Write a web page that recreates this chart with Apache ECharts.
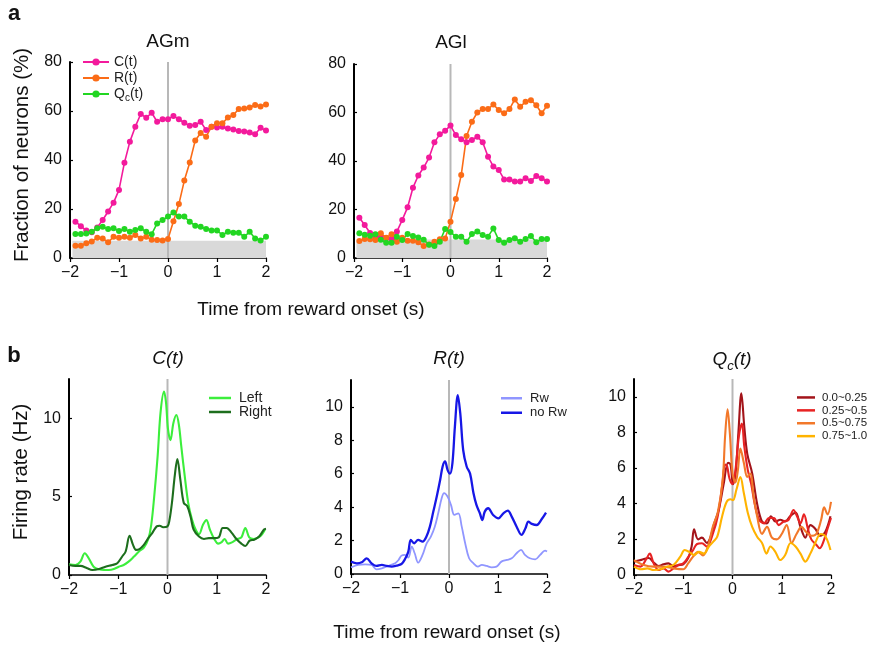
<!DOCTYPE html>
<html>
<head>
<meta charset="utf-8">
<script src="https://cdn.jsdelivr.net/npm/echarts@6.0.0/dist/echarts.min.js"></script>
<style>
html,body{margin:0;padding:0;background:#ffffff;}
#chart{width:871px;height:646px;}
</style>
</head>
<body>
<div id="chart"></div>
<script>
// ---------- shared tick labels ----------
const xTicks = [-2, -1, 0, 1, 2];
const aYTicks = [0, 20, 40, 60, 80];
const cYTicks = [0, 5, 10];
const rYTicks = [0, 2, 4, 6, 8, 10];
const qYTicks = [0, 2, 4, 6, 8, 10];

// ---------- panel a: time bins (s) ----------
const binTimes = [-1.889, -1.778, -1.667, -1.556, -1.444, -1.333, -1.222, -1.111, -1.0, -0.889, -0.778, -0.667, -0.556, -0.444, -0.333, -0.222, -0.111, 0,
  0.111, 0.222, 0.333, 0.444, 0.556, 0.667, 0.778, 0.889, 1.0, 1.111, 1.222, 1.333, 1.444, 1.556, 1.667, 1.778, 1.889, 2.0];

// AGm (% of neurons)
const agmC = [14.8, 13, 11.2, 10.5, 12.5, 15.5, 19, 22.6, 27.8, 38.9, 47.5, 53.6, 58.8, 57.2, 59.3, 55.6, 56.6, 56.6,
  58, 56.6, 55.2, 54, 54.3, 55.6, 52.2, 53.6, 53.3, 53.6, 52.9, 52.5, 51.8, 51.6, 51.2, 50.5, 53.2, 52];
const agmR = [5, 5, 6, 6.7, 8.3, 8, 6.4, 8.7, 8.3, 8.7, 8.3, 9.4, 8, 8.7, 7.5, 7.3, 7.1, 7.8,
  15, 22, 31.6, 39, 48, 51, 49.5, 53.6, 55, 55, 57.3, 58.4, 60.8, 61, 61.4, 62.4, 61.8, 62.7];
const agmQ = [9.8, 9.8, 10, 10.7, 12.1, 12.8, 11.8, 12.1, 11, 11.8, 10.7, 11.4, 12.1, 10.7, 9.7, 14.1, 15.5, 16.9,
  18.6, 16.9, 16.9, 14.8, 13.2, 12.8, 11.8, 11.2, 11.2, 9.4, 10.7, 10.3, 10.3, 8.7, 10.7, 8, 7.1, 8.7];
const agmChance = 7;

// AGl (% of neurons)
const aglC = [16.6, 13.6, 10.3, 8.9, 8.5, 8.1, 7.8, 10.9, 15.7, 20.9, 29, 34, 37.3, 41.4, 47.7, 51, 52.5, 54.6,
  50.7, 49, 47.7, 48.7, 50, 47.7, 41.8, 37.7, 36.3, 32.4, 32.4, 31.5, 31.5, 32.9, 31.8, 33.8, 32.9, 31.5];
const aglR = [7, 7.8, 7.7, 7.4, 10.2, 8.4, 9.8, 6.7, 8.4, 7.1, 7.1, 6.5, 4.9, 5.6, 6.7, 7.7, 8, 15,
  24.3, 34.2, 50.3, 56.2, 60, 61.4, 61.4, 63.3, 61, 59.7, 61.4, 65.4, 62.4, 64.4, 65.1, 63, 59.7, 62.8];
const aglQ = [10.2, 9.6, 9.2, 9.8, 7.5, 6.3, 6.3, 8.8, 7.4, 9.9, 9.1, 8.5, 7.5, 5.5, 5, 6.7, 12, 10.7,
  8.8, 8.8, 6.7, 9.9, 10.9, 9.5, 8.8, 12.2, 7.4, 6.3, 7.4, 8.1, 6.7, 7.8, 9.1, 6.5, 7.8, 7.8];
const aglChance = 7.6;
const bandStart = -1.95;

// ---------- panel b: firing rates (Hz) ----------
const leftT = [-2, -1.87, -1.77, -1.68, -1.6, -1.5, -1.39, -1.29, -1.19, -1.09, -0.99, -0.89, -0.79, -0.68, -0.58, -0.48, -0.39, -0.33, -0.27, -0.2, -0.14, -0.07, -0.03, 0.01, 0.06, 0.12, 0.18, 0.23, 0.28, 0.35, 0.42, 0.5, 0.57, 0.64, 0.72, 0.79, 0.86, 0.95, 1.03, 1.1, 1.16, 1.23, 1.32, 1.42, 1.5, 1.58, 1.66, 1.75, 1.85, 1.92, 1.98];
const leftV = [0.68, 0.64, 0.85, 1.39, 1.07, 0.53, 0.36, 0.32, 0.32, 0.38, 0.53, 0.64, 0.85, 1.18, 1.5, 1.75, 2.3, 3.2, 5.0, 7.6, 10.4, 11.7, 11.0, 9.3, 8.6, 9.7, 10.2, 9.6, 8.2, 6.3, 4.6, 3.5, 2.9, 2.6, 3.2, 3.5, 2.9, 2.3, 2.0, 2.1, 2.3, 2.0, 2.1, 2.3, 2.4, 3.0, 2.4, 2.3, 2.4, 2.6, 2.9];
const rightT = [-2, -1.87, -1.77, -1.63, -1.53, -1.39, -1.26, -1.12, -1.02, -0.92, -0.85, -0.77, -0.7, -0.64, -0.57, -0.48, -0.39, -0.31, -0.22, -0.16, -0.09, 0, 0.04, 0.09, 0.15, 0.2, 0.26, 0.33, 0.4, 0.47, 0.53, 0.64, 0.74, 0.84, 0.94, 1.04, 1.12, 1.2, 1.3, 1.4, 1.5, 1.58, 1.67, 1.76, 1.86, 1.96, 2.0];
const rightV = [0.64, 0.58, 0.58, 0.43, 0.32, 0.38, 0.53, 0.64, 0.75, 1.18, 1.5, 2.5, 1.92, 1.6, 1.65, 1.92, 2.35, 2.67, 3.1, 3.14, 3.05, 3.1, 3.5, 4.6, 6.4, 7.4, 6.1, 4.6, 4.4, 3.7, 2.9, 2.45, 2.3, 2.35, 2.35, 2.4, 3.0, 3.0, 2.7, 2.3, 2.0, 1.85, 2.2, 2.25, 2.45, 2.9, 2.95];

const noRwT = [-2, -1.88, -1.78, -1.68, -1.58, -1.48, -1.37, -1.27, -1.17, -1.07, -0.97, -0.9, -0.83, -0.78, -0.71, -0.63, -0.54, -0.46, -0.39, -0.32, -0.25, -0.18, -0.13, -0.08, -0.03, 0.02, 0.07, 0.12, 0.18, 0.23, 0.29, 0.36, 0.43, 0.5, 0.56, 0.63, 0.68, 0.73, 0.8, 0.9, 1.01, 1.11, 1.2, 1.28, 1.38, 1.48, 1.56, 1.62, 1.69, 1.79, 1.89, 1.98];
const noRwV = [0.74, 0.64, 0.7, 0.94, 0.64, 0.48, 0.54, 0.48, 0.44, 0.5, 0.6, 0.88, 1.34, 2.04, 1.84, 2.04, 1.94, 2.24, 2.83, 3.73, 4.63, 5.63, 6.43, 6.73, 6.23, 6.0, 6.63, 8.8, 10.7, 9.6, 7.4, 6.43, 6.0, 4.83, 4.13, 3.63, 3.23, 3.73, 3.93, 3.53, 3.33, 3.63, 3.79, 3.43, 2.83, 2.34, 2.73, 3.13, 3.0, 2.93, 3.27, 3.67];
const rwT = [-2, -1.85, -1.71, -1.58, -1.48, -1.37, -1.24, -1.1, -1.03, -0.97, -0.9, -0.83, -0.76, -0.7, -0.63, -0.54, -0.46, -0.37, -0.29, -0.22, -0.15, -0.1, -0.03, 0.04, 0.11, 0.19, 0.26, 0.33, 0.41, 0.5, 0.59, 0.67, 0.77, 0.87, 0.97, 1.07, 1.18, 1.28, 1.38, 1.47, 1.55, 1.65, 1.76, 1.86, 1.96, 2.0];
const rwV = [0.4, 0.54, 0.58, 0.54, 0.28, 0.34, 0.48, 0.64, 0.84, 1.1, 1.14, 0.98, 1.64, 1.24, 0.68, 1.14, 1.8, 2.24, 2.83, 3.63, 4.53, 4.83, 4.63, 4.13, 3.53, 3.63, 2.83, 1.84, 0.94, 0.64, 0.44, 0.54, 0.48, 0.4, 0.44, 0.74, 0.84, 0.94, 1.24, 1.44, 1.14, 0.94, 0.88, 1.14, 1.4, 1.35];

const q1T = [-2, -1.85, -1.7, -1.6, -1.5, -1.4, -1.3, -1.2, -1.1, -1.0, -0.9, -0.83, -0.78, -0.7, -0.62, -0.52, -0.45, -0.37, -0.28, -0.18, -0.09, -0.04, 0.01, 0.06, 0.12, 0.18, 0.24, 0.3, 0.4, 0.5, 0.6, 0.7, 0.78, 0.87, 0.97, 1.07, 1.17, 1.28, 1.38, 1.48, 1.58, 1.68, 1.78, 1.88, 1.99];
const q1V = [0.75, 0.85, 0.95, 0.7, 0.5, 0.6, 0.65, 0.5, 0.55, 0.6, 0.95, 1.6, 2.56, 2.0, 2.1, 1.8, 2.1, 2.9, 3.65, 5.1, 6.3, 6.2, 5.1, 5.6, 8.0, 10.2, 8.3, 6.8, 5.7, 4.0, 3.0, 2.9, 3.3, 3.0, 3.1, 3.0, 3.3, 3.5, 2.7, 2.1, 2.8, 2.6, 2.2, 2.4, 3.3];
const q2T = [-2, -1.87, -1.75, -1.68, -1.6, -1.5, -1.4, -1.3, -1.2, -1.1, -1.0, -0.9, -0.8, -0.72, -0.62, -0.52, -0.4, -0.3, -0.21, -0.15, -0.11, -0.06, 0.0, 0.06, 0.13, 0.19, 0.24, 0.31, 0.38, 0.45, 0.54, 0.64, 0.74, 0.84, 0.94, 1.04, 1.14, 1.24, 1.31, 1.38, 1.45, 1.53, 1.6, 1.7, 1.77, 1.85, 1.93, 2.0];
const q2V = [0.56, 0.47, 0.9, 1.2, 0.65, 0.28, 0.37, 0.19, 0.37, 0.56, 0.65, 1.0, 1.4, 1.74, 1.78, 1.6, 2.3, 3.3, 5.0, 6.2, 6.1, 5.4, 5.1, 5.9, 7.8, 8.5, 7.2, 5.9, 5.1, 4.0, 3.1, 2.9, 3.2, 3.2, 2.8, 3.0, 3.1, 3.65, 3.3, 2.9, 3.4, 2.6, 2.0, 1.7, 1.5, 1.9, 2.6, 3.2];
const q3T = [-2, -1.8, -1.6, -1.4, -1.2, -1.0, -0.9, -0.8, -0.7, -0.6, -0.5, -0.4, -0.3, -0.2, -0.15, -0.1, -0.05, 0.0, 0.06, 0.11, 0.16, 0.23, 0.3, 0.36, 0.43, 0.5, 0.6, 0.7, 0.8, 0.9, 1.0, 1.1, 1.2, 1.3, 1.4, 1.5, 1.6, 1.7, 1.8, 1.86, 1.93, 2.0];
const q3V = [0.84, 0.56, 0.47, 0.47, 0.37, 0.32, 0.65, 1.03, 1.3, 1.1, 1.6, 2.7, 3.5, 5.3, 7.8, 9.3, 7.8, 5.7, 5.2, 5.9, 7.1, 6.3, 5.5, 5.7, 4.4, 3.3, 2.3, 2.7, 2.1, 2.0, 2.3, 2.8, 1.8, 2.3, 2.7, 2.4, 2.2, 2.3, 3.1, 3.8, 3.4, 4.1];
const q4T = [-2, -1.86, -1.73, -1.6, -1.46, -1.33, -1.2, -1.06, -0.97, -0.88, -0.78, -0.68, -0.58, -0.48, -0.39, -0.31, -0.21, -0.12, -0.04, 0.01, 0.08, 0.16, 0.23, 0.31, 0.4, 0.5, 0.6, 0.69, 0.77, 0.87, 0.97, 1.07, 1.18, 1.28, 1.38, 1.48, 1.58, 1.68, 1.79, 1.89, 1.99];
const q4V = [0.47, 0.32, 0.37, 0.28, 0.32, 0.47, 0.56, 1.03, 1.4, 1.3, 1.12, 1.3, 1.2, 1.6, 1.87, 2.15, 3.3, 4.1, 4.25, 4.2, 4.8, 5.5, 4.6, 3.5, 2.7, 2.15, 1.8, 1.2, 1.6, 1.3, 0.84, 1.12, 1.8, 1.6, 1.2, 0.75, 1.2, 1.8, 2.3, 2.15, 1.4];

// ---------- rendering ----------
const FONT = '"Liberation Sans", Arial, Helvetica, sans-serif';
const chart = echarts.init(document.getElementById('chart'), null, {renderer: 'canvas'});
const minus = v => String(v).replace('-', '\u2212');
const pairs = (T, V) => T.map((t, i) => [t, V[i]]);

const grids = [
  {left: 70, top: 62, width: 196, height: 196},
  {left: 354, top: 64, width: 193, height: 194},
  {left: 69, top: 379, width: 197, height: 196},
  {left: 351, top: 380, width: 196, height: 194},
  {left: 634, top: 379, width: 197, height: 196}
];
const yMax = [80, 80, 12.5, 11.6, 11];
const yTickSets = [aYTicks, aYTicks, cYTicks, rYTicks, qYTicks];

const xAxes = grids.map((g, i) => ({
  gridIndex: i, type: 'value', min: -2, max: 2, interval: 1,
  axisLine: {show: true, onZero: false, lineStyle: {color: '#000', width: 1.5}},
  axisTick: {show: true, length: 4, lineStyle: {color: '#000', width: 1.2}, customValues: xTicks},
  axisLabel: {show: true, fontSize: 16, color: '#111', margin: 7, fontFamily: FONT, customValues: xTicks, formatter: minus},
  splitLine: {show: false}
}));
const yAxes = grids.map((g, i) => ({
  gridIndex: i, type: 'value', min: 0, max: yMax[i],
  axisLine: {show: true, onZero: false, lineStyle: {color: '#000', width: 2}},
  axisTick: {show: true, inside: true, length: 3, lineStyle: {color: '#000', width: 1.2}, customValues: yTickSets[i]},
  axisLabel: {show: true, fontSize: 16, color: '#111', margin: 8, fontFamily: FONT, customValues: yTickSets[i],
    formatter: v => (yTickSets[i].indexOf(v) >= 0 ? minus(v) : '')},
  splitLine: {show: false}
}));

const series = [];
function band(gi, chance) {
  series.push({type: 'line', xAxisIndex: gi, yAxisIndex: gi, data: [[bandStart, chance], [2, chance]],
    symbol: 'none', lineStyle: {width: 0}, areaStyle: {color: '#d9d9d9', opacity: 1}, silent: true, z: 1, animation: false});
}
function zeroLine(gi) {
  series.push({type: 'line', xAxisIndex: gi, yAxisIndex: gi, data: [[0, 0], [0, yMax[gi]]],
    symbol: 'none', lineStyle: {color: '#b8b8b8', width: 2}, silent: true, z: 1, animation: false});
}
function dots(name, color, vals, gi) {
  series.push({name, type: 'line', xAxisIndex: gi, yAxisIndex: gi, data: pairs(binTimes, vals),
    symbol: 'circle', symbolSize: 6, showSymbol: true, lineStyle: {color, width: 1.6}, itemStyle: {color},
    z: 3, animation: false});
}
function curve(name, color, T, V, gi, w) {
  series.push({name, type: 'line', xAxisIndex: gi, yAxisIndex: gi, data: pairs(T, V),
    symbol: 'none', showSymbol: false, smooth: 0.35, lineStyle: {color, width: w || 2.1}, itemStyle: {color},
    z: 3, animation: false});
}

const PINK = '#f31a9c', ORANGE = '#fb6c17', GREEN = '#22d622';
band(0, agmChance); zeroLine(0);
dots('C(t)', PINK, agmC, 0); dots('R(t)', ORANGE, agmR, 0); dots('Qc(t)', GREEN, agmQ, 0);
band(1, aglChance); zeroLine(1);
dots('C(t)', PINK, aglC, 1); dots('R(t)', ORANGE, aglR, 1); dots('Qc(t)', GREEN, aglQ, 1);

zeroLine(2);
curve('Left', '#3cee3c', leftT, leftV, 2);
curve('Right', '#1d6e1d', rightT, rightV, 2);
zeroLine(3);
curve('Rw', '#9096ff', rwT, rwV, 3, 1.8);
curve('no Rw', '#1717e6', noRwT, noRwV, 3, 2.3);
zeroLine(4);
curve('0.0~0.25', '#a3141a', q1T, q1V, 4);
curve('0.25~0.5', '#e82323', q2T, q2V, 4);
curve('0.5~0.75', '#f2782a', q3T, q3V, 4);
curve('0.75~1.0', '#ffb300', q4T, q4V, 4);

const legendText = {fontSize: 14, color: '#222', fontFamily: FONT, lineHeight: 16,
  rich: {m: {fontSize: 14, color: '#222', fontFamily: FONT, lineHeight: 16},
         s: {fontSize: 10, color: '#222', fontFamily: FONT, padding: [9, 0, 0, 0]}}};

const legends = [
  {data: ['C(t)', 'R(t)', 'Qc(t)'], left: 82, top: 54, padding: 0, orient: 'vertical', itemWidth: 26, itemHeight: 9, itemGap: 0,
   textStyle: legendText,
   formatter: n => (n === 'Qc(t)' ? '{m|Q}{s|c}{m|(t)}' : '{m|' + n + '}')},
  {data: ['Left', 'Right'], left: 209, top: 391, padding: 0, orient: 'vertical', icon: 'rect', itemWidth: 22, itemHeight: 2.5, itemGap: 0,
   textStyle: {fontSize: 14, color: '#222', fontFamily: FONT, lineHeight: 14, padding: [0, 0, 0, 3]}},
  {data: ['Rw', 'no Rw'], left: 501, top: 391, padding: 0, orient: 'vertical', icon: 'rect', itemWidth: 21, itemHeight: 2.5, itemGap: 0,
   textStyle: {fontSize: 13, color: '#222', fontFamily: FONT, lineHeight: 14.5, padding: [0, 0, 0, 3]}},
  {data: ['0.0~0.25', '0.25~0.5', '0.5~0.75', '0.75~1.0'], left: 797, top: 391, padding: 0, orient: 'vertical', icon: 'rect', itemWidth: 18, itemHeight: 2.5, itemGap: 0,
   textStyle: {fontSize: 11.5, color: '#222', fontFamily: FONT, lineHeight: 12.9, padding: [0, 0, 0, 2]}}
];

function txt(x, y, text, size, extra) {
  return {type: 'text', x, y, silent: true,
    style: Object.assign({text, fontSize: size, fontFamily: FONT, fill: '#111', textAlign: 'center', textVerticalAlign: 'middle'}, extra || {})};
}
const graphics = [
  txt(14, 14, 'a', 22, {fontWeight: 'bold'}),
  txt(168, 42, 'AGm', 19),
  txt(451, 43, 'AGl', 19),
  txt(311, 310, 'Time from reward onset (s)', 19),
  Object.assign(txt(22, 155, 'Fraction of neurons (%)', 20.5), {rotation: Math.PI / 2}),
  txt(14, 356, 'b', 22, {fontWeight: 'bold'}),
  txt(168, 359, 'C(t)', 19, {fontStyle: 'italic'}),
  txt(449, 359, 'R(t)', 19, {fontStyle: 'italic'}),
  {type: 'text', x: 732, y: 360, silent: true,
   style: {text: '{q|Q}{c|c}{q|(t)}', textAlign: 'center', textVerticalAlign: 'middle',
     rich: {q: {fontSize: 19, fontStyle: 'italic', fontFamily: FONT, fill: '#111', lineHeight: 22},
            c: {fontSize: 13, fontStyle: 'italic', fontFamily: FONT, fill: '#111', padding: [12, 0, 0, 0]}}}},
  Object.assign(txt(21, 472, 'Firing rate (Hz)', 20.5), {rotation: Math.PI / 2}),
  txt(447, 633, 'Time from reward onset (s)', 19)
];

chart.setOption({
  backgroundColor: '#ffffff',
  animation: false,
  textStyle: {fontFamily: FONT},
  grid: grids,
  xAxis: xAxes,
  yAxis: yAxes,
  legend: legends,
  graphic: graphics,
  series: series
});
</script>
</body>
</html>
